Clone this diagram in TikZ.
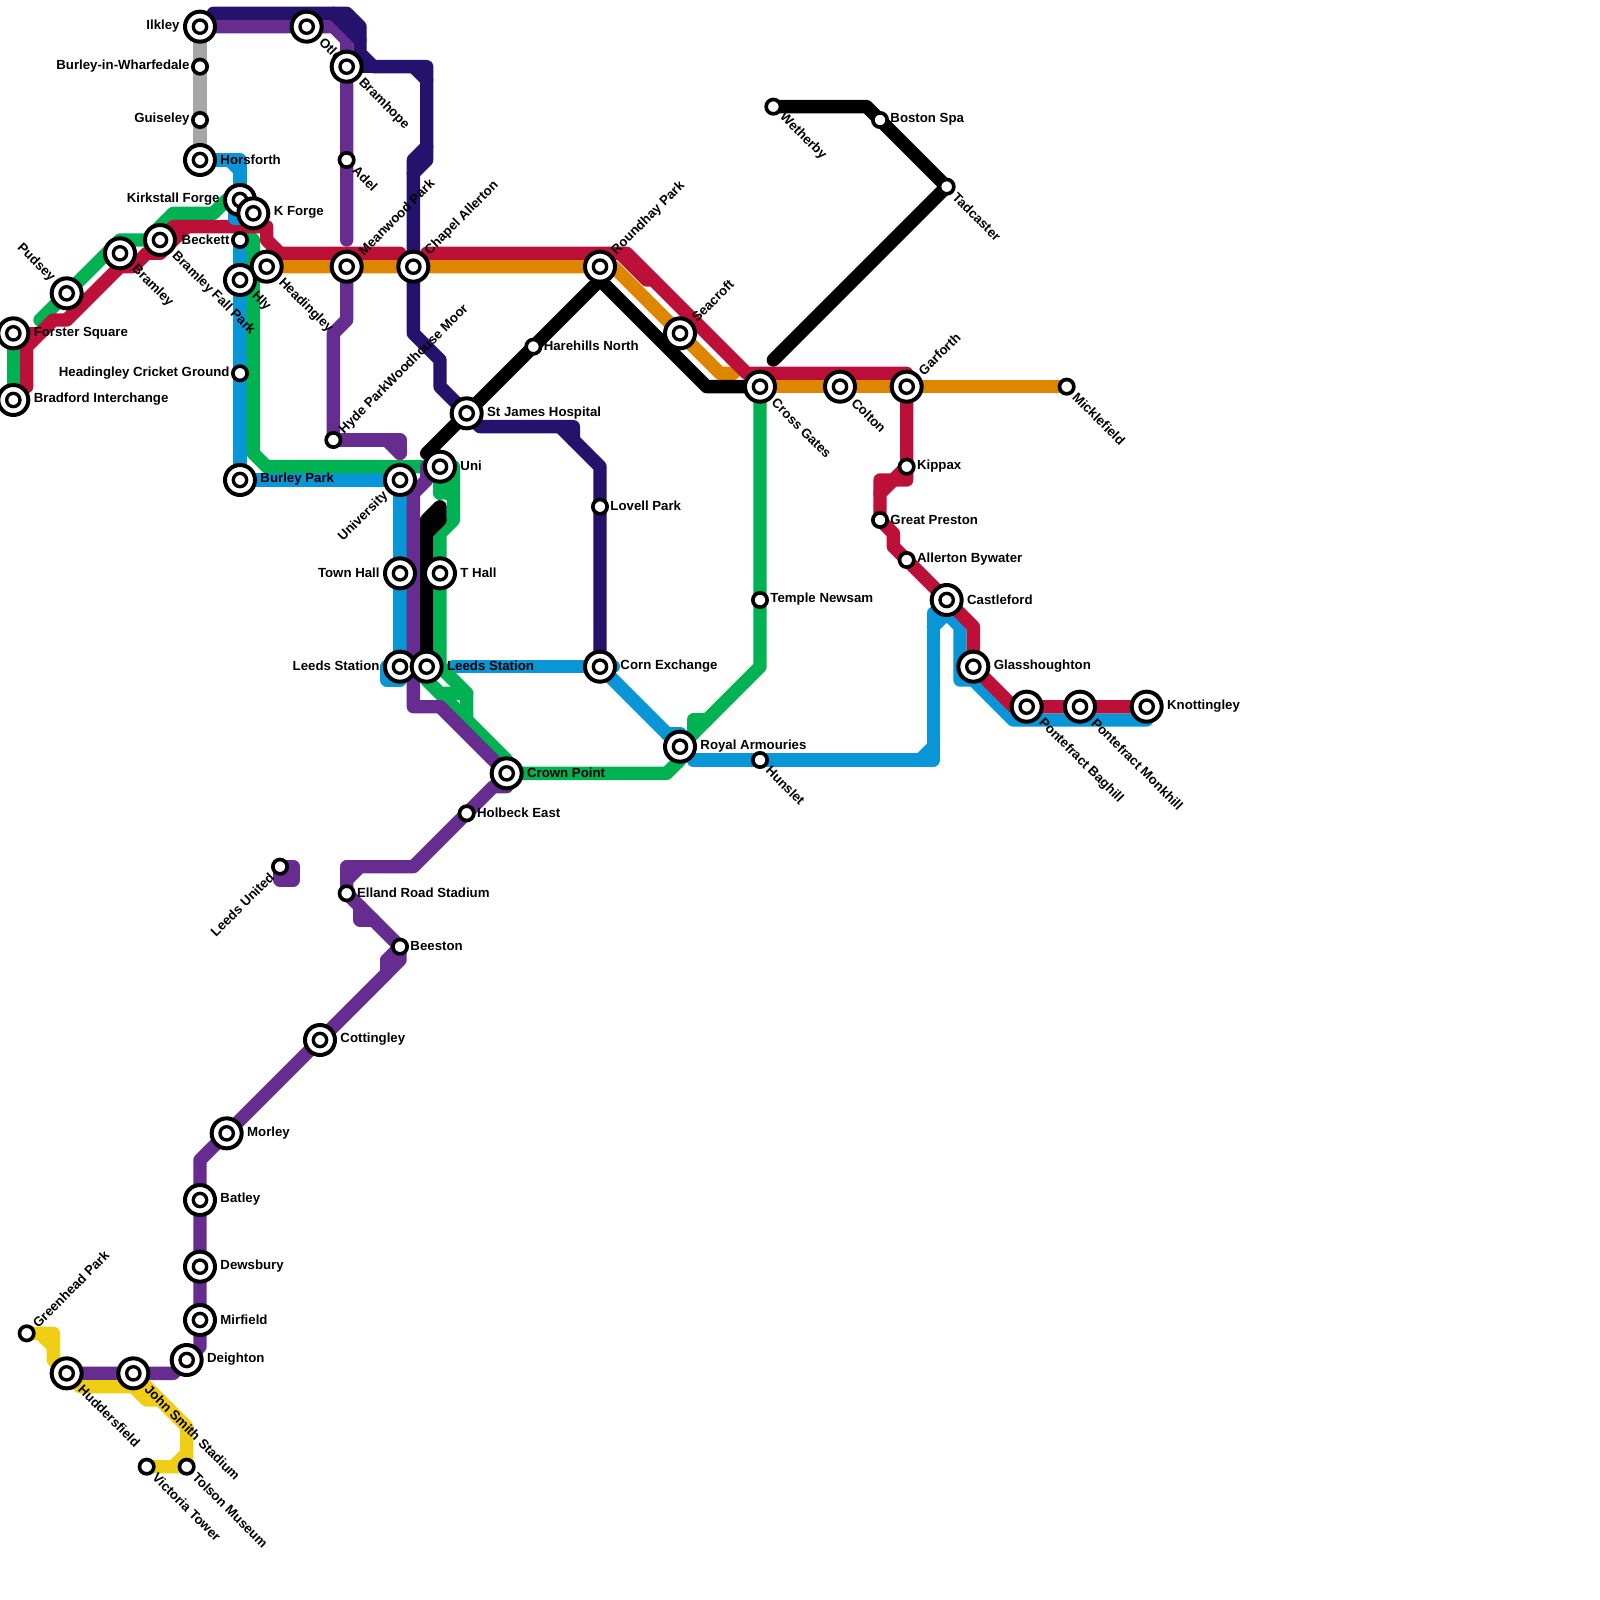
\documentclass[tikz,border=0pt]{standalone}
\usepackage{fontspec}
\setmainfont{Liberation Sans}
\definecolor{lgray}{HTML}{A6A6A6}
\definecolor{lblue}{HTML}{0896D7}
\definecolor{lgreen}{HTML}{00B251}
\definecolor{lred}{HTML}{BD1038}
\definecolor{lorange}{HTML}{DF8600}
\definecolor{lpurple}{HTML}{662C90}
\definecolor{lnavy}{HTML}{25126C}
\definecolor{lyellow}{HTML}{F0CE15}
\tikzset{
  metro/.style={line width=0.2cm,line cap=round,line join=round},
  lbl/.style={font=\bfseries\fontsize{5.65}{7}\selectfont,inner sep=0pt,text=black},
  bigR/.style={lbl,anchor=west,xshift=0.3cm,yshift=0.008cm},
  bigL/.style={lbl,anchor=east,xshift=-0.3cm,yshift=0.008cm},
  smallR/.style={lbl,anchor=west,xshift=0.15cm,yshift=0.008cm},
  smallL/.style={lbl,anchor=east,xshift=-0.15cm,yshift=0.008cm},
  bigDR/.style={lbl,anchor=west,rotate=-45,xshift=0.29cm},
  smallDR/.style={lbl,anchor=west,rotate=-45,xshift=0.17cm},
  bigUR/.style={lbl,anchor=west,rotate=45,xshift=0.29cm},
  smallUR/.style={lbl,anchor=west,rotate=45,xshift=0.17cm},
  bigDL/.style={lbl,anchor=east,rotate=45,xshift=-0.29cm},
  smallDL/.style={lbl,anchor=east,rotate=45,xshift=-0.17cm},
  bigUL/.style={lbl,anchor=east,rotate=-45,xshift=-0.29cm},
  ringout/.style={circle,draw=black,fill=white,line width=0.06cm,inner sep=0pt,minimum size=0.45cm},
  ringin/.style={circle,draw=black,fill=white,line width=0.05cm,inner sep=0pt,minimum size=0.2cm},
  ringsmall/.style={circle,draw=black,fill=white,line width=0.055cm,inner sep=0pt,minimum size=0.215cm},
}
\begin{document}
\begin{tikzpicture}[x=0.2cm,y=-0.2cm]
\useasboundingbox (0,0) rectangle (120,120);
\fill[white] (0,0) rectangle (120,120);
\foreach \n/\x/\y in {
 ilkley/15/2, burleyw/15/5, guiseley/15/9, horsforth/15/12, otley/23/2, bramhope/26/5, adel/26/12,
 meanwood/26/20, chapel/31/20, headingley/20/20, hly/18/21, kirkstall/18/15, kforge/19/16, beckett/18/18,
 bramleyfp/12/18, bramley/9/19, pudsey/5/22, forster/1/25, bradford/1/30, cricket/18/28, burleypark/18/36,
 hydepark/25/33, university/30/36, uni/33/35, stjames/35/31, thall/33/43, townhall/30/43, leedsl/30/50,
 leedsr/32/50, corn/45/50, lovell/45/38, crown/38/58, royal/51/56, holbeck/35/61, harehills/40/26,
 roundhay/45/20, seacroft/51/25, crossgates/57/29, colton/63/29, garforth/68/29, micklefield/80/29,
 kippax/68/35, greatpreston/66/39, allerton/68/42, castleford/71/45, glass/73/50, baghill/77/53,
 monkhill/81/53, knottingley/86/53, temple/57/45, hunslet/57/57, wetherby/58/8, boston/66/9, tadcaster/71/14,
 elland/26/67, leedsutd/21/65, beeston/30/71, cottingley/24/78, morley/17/85, batley/15/90, dewsbury/15/95,
 mirfield/15/99, deighton/14/102, johnsmith/10/103, huddersfield/5/103, greenhead/2/100, tolson/14/110, victoria/11/110}
 \coordinate (\n) at (\x,\y);

% gray
\draw[metro,lgray] (ilkley) -- (burleyw) -- (guiseley) -- (horsforth);
% blue
\draw[metro,lblue] (beckett) -- (cricket) -- (burleypark) -- (university) -- (townhall) -- (leedsl) -- (30,51) -- (29,51) -- (29,50);
\draw[metro,lblue] (34,50) -- (46,50);
\draw[metro,lblue] (corn) -- (royal);
\draw[metro,lblue] (50,55) -- (51,55);
\draw[metro,lblue] (52,57) -- (70,57) -- (70,46);
\draw[metro,lblue] (70,47) -- (71,46) -- (72,47) -- (72,51) -- (73,51) -- (76,54) -- (86,54);
\draw[metro,lblue] (69,57) -- (70,56);
% green
\draw[metro,lgreen] (bradford) -- (forster);
\draw[metro,lgreen] (3,24) -- (9,18) -- (11,18) -- (13,16) -- (16,16) -- (17,15) -- (kirkstall);
\draw[metro,lgreen] (18,17) -- (19,18) -- (19,34) -- (20,35) -- (uni) -- (34,35) -- (34,39) -- (33,40) -- (thall) -- (33,50) -- (35,52);
\draw[metro,lgreen] (uni) -- (33,37);
\draw[metro,lgreen] (33.5,35) -- (33.5,37);
\draw[metro,lgreen] (leedsr) -- (32,51) -- (33,52) -- (35,52) -- (35,54);
\draw[metro,lgreen] (33,52) -- (38,57) -- (crown) -- (50,58) -- (51,57);
\draw[metro,lgreen] (royal) -- (57,50) -- (temple) -- (crossgates);
\draw[metro,lgreen] (52,55) -- (52,54) -- (53,54);
% orange
\draw[metro,lorange] (headingley) -- (meanwood) -- (chapel) -- (roundhay) -- (46,20) -- (54,28) -- (55,28);
\draw[metro,lorange] (crossgates) -- (colton) -- (garforth) -- (micklefield);
% crimson
\draw[metro,lred] (2,29) -- (2,26) -- (4,24) -- (5,24) -- (9,20) -- (10,20) -- (11,19) -- (12,19) -- (14,17) -- (20,17) -- (20,18) -- (21,19) -- (30,19);
\draw[metro,lred] (forster) -- (3,25);
\draw[metro,lred] (12,18) -- (13,17) -- (14,17);
\draw[metro,lred] (32,19) -- (47,19) -- (56,28) -- (68,28) -- (garforth) -- (kippax) -- (68,36) -- (66,36) -- (greatpreston) -- (67,40) -- (67,41) -- (allerton) -- (castleford) -- (73,47) -- (glass) -- (76,53) -- (knottingley);
\draw[metro,lred] (67,36) -- (kippax);
\draw[metro,lred] (66,37) -- (67,36);
\draw[metro,lred] (46.5,19) -- (48.5,21) -- (49,21);
% blue upper part, over the crimson
\draw[metro,lblue] (horsforth) -- (18,12) -- (18,16.4) -- (17.6,16.4) -- (17.6,15);
\draw[metro,lblue] (17.2,12) -- (18,12.8);
% purple
\draw[metro,lpurple] (ilkley) -- (otley) -- (25,2) -- (26,3) -- (bramhope) -- (adel) -- (26,18);
\draw[metro,lpurple] (meanwood) -- (26,24) -- (25,25) -- (hydepark) -- (26,33);
\draw[metro,lpurple] (hydepark) -- (30,33) -- (30,34);
\draw[metro,lpurple] (29,33) -- (30,34);
\draw[metro,lpurple] (32,35) -- (32,36) -- (31,37) -- (31,53) -- (33,53) -- (crown) -- (38,59) -- (37,59) -- (holbeck) -- (31,65) -- (26,65) -- (elland) -- (beeston);
\draw[metro,lpurple] (26,66) -- (27,65);
\draw[metro,lpurple] (27,68) -- (27,69) -- (28,69);
\draw[metro,lpurple] (beeston) -- (30,72) -- (cottingley);
\draw[metro,lpurple] (beeston) -- (29,72) -- (29,73) -- (cottingley) -- (morley) -- (15,87) -- (batley) -- (dewsbury) -- (mirfield) -- (15,101) -- (deighton) -- (13,103) -- (johnsmith) -- (huddersfield);
\draw[metro,lpurple] (21,65) -- (22,65) -- (22,66) -- (21,66) -- cycle;
% yellow
\draw[metro,lyellow] (greenhead) -- (4,100) -- (4,102) -- (huddersfield) -- (6,104) -- (10,104) -- (11,105) -- (12,105);
\draw[metro,lyellow] (3,100) -- (4,101);
\draw[metro,lyellow] (johnsmith) -- (14,107) -- (tolson) -- (victoria);
\draw[metro,lyellow] (14,109) -- (13,110);
% navy
\draw[metro,lnavy] (16,1) -- (26,1) -- (27,2) -- (27,4) -- (28,5) -- (32,5) -- (32,12) -- (31,13) -- (chapel) -- (31,25) -- (33,27) -- (33,29) -- (stjames) -- (36,32) -- (43,32) -- (43,33) -- (45,35) -- (lovell) -- (corn);
\draw[metro,lnavy] (25,1) -- (27,3);
\draw[metro,lnavy] (bramhope) -- (28,5);
\draw[metro,lnavy] (31,5) -- (32,6);
\draw[metro,lnavy] (32,11) -- (31,12) -- (31,13);
\draw[metro,lnavy] (42,32) -- (43,33);
% black
\draw[metro,black] (wetherby) -- (65,8) -- (tadcaster) -- (58,27);
\draw[metro,black] (32,34) -- (stjames) -- (harehills) -- (45,21) -- (53,29) -- (crossgates);
\draw[metro,black] (roundhay) -- (45,21);
\draw[metro,black] (leedsr) -- (32,39) -- (33,38) -- (33,39) -- (32,40);

% labels
\foreach \n/\t in {horsforth/Horsforth, kforge/K Forge, forster/Forster Square, bradford/Bradford Interchange,
 burleypark/Burley Park, uni/Uni, thall/T Hall, leedsr/Leeds Station, stjames/St James Hospital, corn/Corn Exchange,
 crown/Crown Point, royal/Royal Armouries, castleford/Castleford, glass/Glasshoughton, knottingley/Knottingley,
 cottingley/Cottingley, morley/Morley, batley/Batley, dewsbury/Dewsbury, mirfield/Mirfield, deighton/Deighton}
 \node[bigR] (l-\n) at (\n) {\t};
\foreach \n/\t in {lovell/Lovell Park, harehills/Harehills North, holbeck/Holbeck East, temple/Temple Newsam,
 kippax/Kippax, greatpreston/Great Preston, allerton/Allerton Bywater, boston/Boston Spa,
 elland/Elland Road Stadium, beeston/Beeston}
 \node[smallR] (l-\n) at (\n) {\t};
\foreach \n/\t in {ilkley/Ilkley, kirkstall/Kirkstall Forge, townhall/Town Hall, leedsl/Leeds Station}
 \node[bigL] (l-\n) at (\n) {\t};
\foreach \n/\t in {burleyw/Burley-in-Wharfedale, guiseley/Guiseley, beckett/Beckett, cricket/Headingley Cricket Ground}
 \node[smallL] (l-\n) at (\n) {\t};
\foreach \n/\t in {otley/Otley, bramhope/Bramhope, headingley/Headingley, hly/Hly, bramley/Bramley, bramleyfp/Bramley Fall Park,
 crossgates/Cross Gates, colton/Colton, baghill/Pontefract Baghill, monkhill/Pontefract Monkhill,
 huddersfield/Huddersfield, johnsmith/John Smith Stadium}
 \node[bigDR] (l-\n) at (\n) {\t};
\foreach \n/\t in {adel/Adel, tadcaster/Tadcaster, wetherby/Wetherby, micklefield/Micklefield, hunslet/Hunslet,
 tolson/Tolson Museum, victoria/Victoria Tower}
 \node[smallDR] (l-\n) at (\n) {\t};
\foreach \n/\t in {meanwood/Meanwood Park, chapel/Chapel Allerton, roundhay/Roundhay Park, seacroft/Seacroft, garforth/Garforth}
 \node[bigUR] (l-\n) at (\n) {\t};
\foreach \n/\t in {hydepark/Hyde ParkWoodhouse Moor, greenhead/Greenhead Park}
 \node[smallUR] (l-\n) at (\n) {\t};
\node[bigDL] (l-university) at (university) {University};
\node[smallDL] (l-leedsutd) at (leedsutd) {Leeds United};
\node[bigUL] (l-pudsey) at (pudsey) {Pudsey};

% station markers
\foreach \n in {ilkley,horsforth,otley,bramhope,meanwood,chapel,headingley,hly,kirkstall,kforge,bramleyfp,bramley,pudsey,
 forster,bradford,burleypark,university,uni,stjames,thall,townhall,leedsl,leedsr,corn,crown,royal,roundhay,seacroft,
 crossgates,colton,garforth,castleford,glass,baghill,monkhill,knottingley,cottingley,morley,batley,dewsbury,mirfield,
 deighton,johnsmith,huddersfield}
 {\node[ringout] (m-\n) at (\n) {}; \node[ringin] (i-\n) at (\n) {};}
\foreach \n in {burleyw,guiseley,adel,beckett,cricket,hydepark,lovell,holbeck,harehills,micklefield,kippax,greatpreston,
 allerton,temple,hunslet,wetherby,boston,tadcaster,elland,leedsutd,beeston,greenhead,tolson,victoria}
 \node[ringsmall] (m-\n) at (\n) {};
\end{tikzpicture}
\end{document}
